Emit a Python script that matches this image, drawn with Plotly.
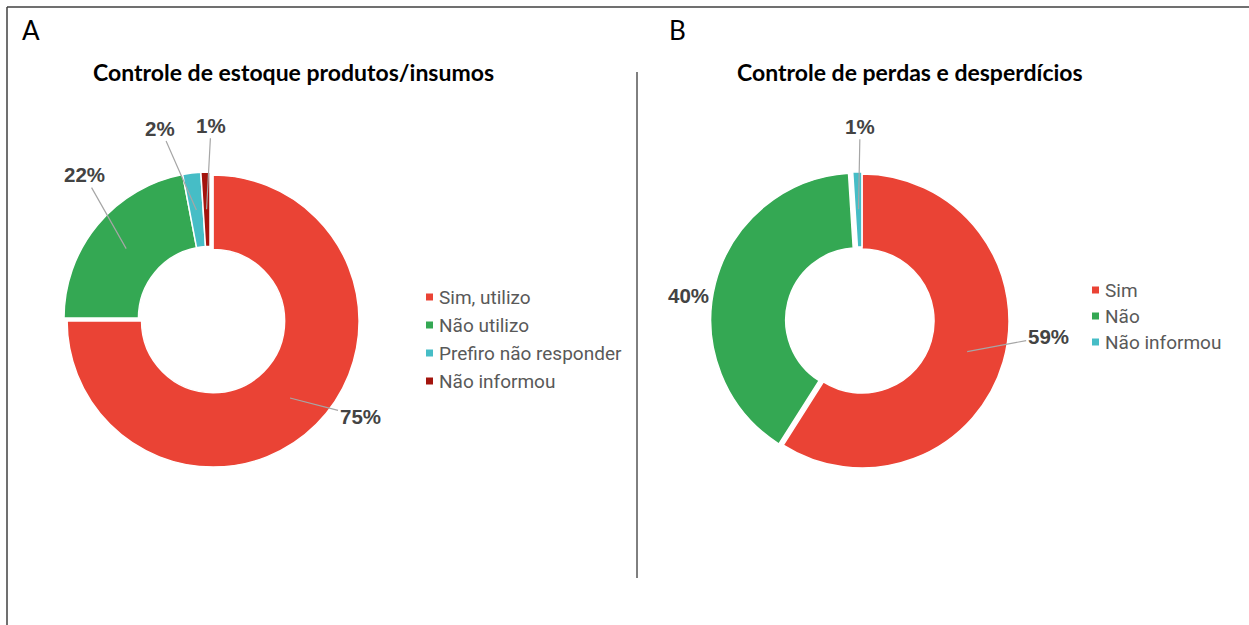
import math
import plotly.graph_objects as go

W, H = 1249, 625

# ---- data ----
title_a = "Controle de estoque produtos/insumos"
cats_a = ["Sim, utilizo", "Não utilizo", "Prefiro não responder", "Não informou"]
vals_a = [75, 22, 2, 1]

title_b = "Controle de perdas e desperdícios"
cats_b = ["Sim", "Não", "Não informou"]
vals_b = [59, 40, 1]

# ---- style ----
colors_a = ["#EA4335", "#34A853", "#46BDC6", "#A3140D"]
colors_b = ["#EA4335", "#34A853", "#46BDC6"]
pull_a = [0.03, 0, 0, 0]
pull_b = [0, 0.03, 0.015]
geom_a = dict(cx=210, cy=318, r=146)
geom_b = dict(cx=862, cy=321, r=147)
HOLE = 0.49
# label offsets (pixels) relative to leader start
off_a = [(70, 18, True), (-42, -74, True), (-36, -82, True), (4.5, -84, True)]
off_b = [(81, -15, True), (-63, 3, False), (1.6, -83, True)]
LABEL_FONT = dict(family="Liberation Sans, Arial, sans-serif", size=20.5, color="#434343", weight="bold")
LEG_FONT = dict(family="Roboto, Liberation Sans, sans-serif", size=19, color="#595959")


def px(x):
    return x / W


def py(y):
    return 1 - y / H


def domain(g, pulls):
    half = g["r"] * (1 + max(pulls))
    return dict(x=[px(g["cx"] - half), px(g["cx"] + half)],
                y=[py(g["cy"] + half), py(g["cy"] - half)])


fig = go.Figure()
for cats, vals, cols, pulls, g in [(cats_a, vals_a, colors_a, pull_a, geom_a),
                                   (cats_b, vals_b, colors_b, pull_b, geom_b)]:
    fig.add_trace(go.Pie(
        labels=cats, values=vals, hole=HOLE, sort=False, direction="clockwise",
        rotation=0, pull=pulls, textinfo="none", hoverinfo="label+percent",
        marker=dict(colors=cols, line=dict(color="white", width=1.5)),
        domain=domain(g, pulls), showlegend=False,
    ))

annotations = []
shapes = []


def add_labels(vals, pulls, g, offs):
    total = sum(vals)
    cum = 0
    for v, p, (ax, ay, arrow) in zip(vals, pulls, offs):
        mid = (cum + v / 2) / total
        cum += v
        th = 2 * math.pi * mid
        rr = g["r"] * ((1 + HOLE) / 2 + p)
        x0 = g["cx"] + rr * math.sin(th)
        y0 = g["cy"] - rr * math.cos(th)
        txt = f"{round(100 * v / total)}%"
        if arrow:
            annotations.append(dict(
                x=px(x0), y=py(y0), xref="paper", yref="paper", text=txt,
                showarrow=True, arrowhead=0, arrowwidth=1.2, arrowcolor="#A6A6A6",
                ax=ax, ay=ay, standoff=0, font=LABEL_FONT,
                xanchor="center", yanchor="middle"))
        else:
            annotations.append(dict(
                x=px(x0 + ax), y=py(y0 + ay), xref="paper", yref="paper", text=txt,
                showarrow=False, font=LABEL_FONT, xanchor="center", yanchor="middle"))


add_labels(vals_a, pull_a, geom_a, off_a)
add_labels(vals_b, pull_b, geom_b, off_b)


def add_legend(cats, cols, sq_x, text_x, y0, dy):
    for i, (c, col) in enumerate(zip(cats, cols)):
        yc = y0 + i * dy
        shapes.append(dict(type="rect", xref="paper", yref="paper",
                           x0=px(sq_x), x1=px(sq_x + 7), y0=py(yc + 3.5), y1=py(yc - 3.5),
                           fillcolor=col, line=dict(width=0)))
        annotations.append(dict(x=px(text_x), y=py(yc), xref="paper", yref="paper",
                                text=c, showarrow=False, xanchor="left", yanchor="middle",
                                font=LEG_FONT))


add_legend(cats_a, colors_a, 426, 437, 297, 28)
add_legend(cats_b, colors_b, 1092, 1103, 290, 26)

TITLE_FONT = dict(family="Lato, Open Sans, sans-serif", size=23, color="#000000", weight="bold")
PANEL_FONT = dict(family="Lato, Open Sans, sans-serif", size=26, color="#000000")
for x, y, t, f in [(293, 72, title_a, TITLE_FONT), (910, 72, title_b, TITLE_FONT),
                   (31, 30, "A", PANEL_FONT), (677, 30, "B", PANEL_FONT)]:
    annotations.append(dict(x=px(x), y=py(y), xref="paper", yref="paper", text=t,
                            showarrow=False, font=f, xanchor="center", yanchor="middle"))

# frame and divider
shapes.append(dict(type="line", xref="paper", yref="paper", x0=px(7), x1=1, y0=py(7), y1=py(7),
                   line=dict(color="#404040", width=1.5)))
shapes.append(dict(type="line", xref="paper", yref="paper", x0=px(7), x1=px(7), y0=py(7), y1=0,
                   line=dict(color="#404040", width=1.5)))
shapes.append(dict(type="line", xref="paper", yref="paper", x0=px(637), x1=px(637), y0=py(72), y1=py(578),
                   line=dict(color="#000000", width=1)))

fig.update_layout(width=W, height=H, margin=dict(l=0, r=0, t=0, b=0),
                  paper_bgcolor="white", plot_bgcolor="white",
                  annotations=annotations, shapes=shapes)
fig.write_html("out.html", config={"displayModeBar": False},
               post_script="document.body.style.margin='0';")
